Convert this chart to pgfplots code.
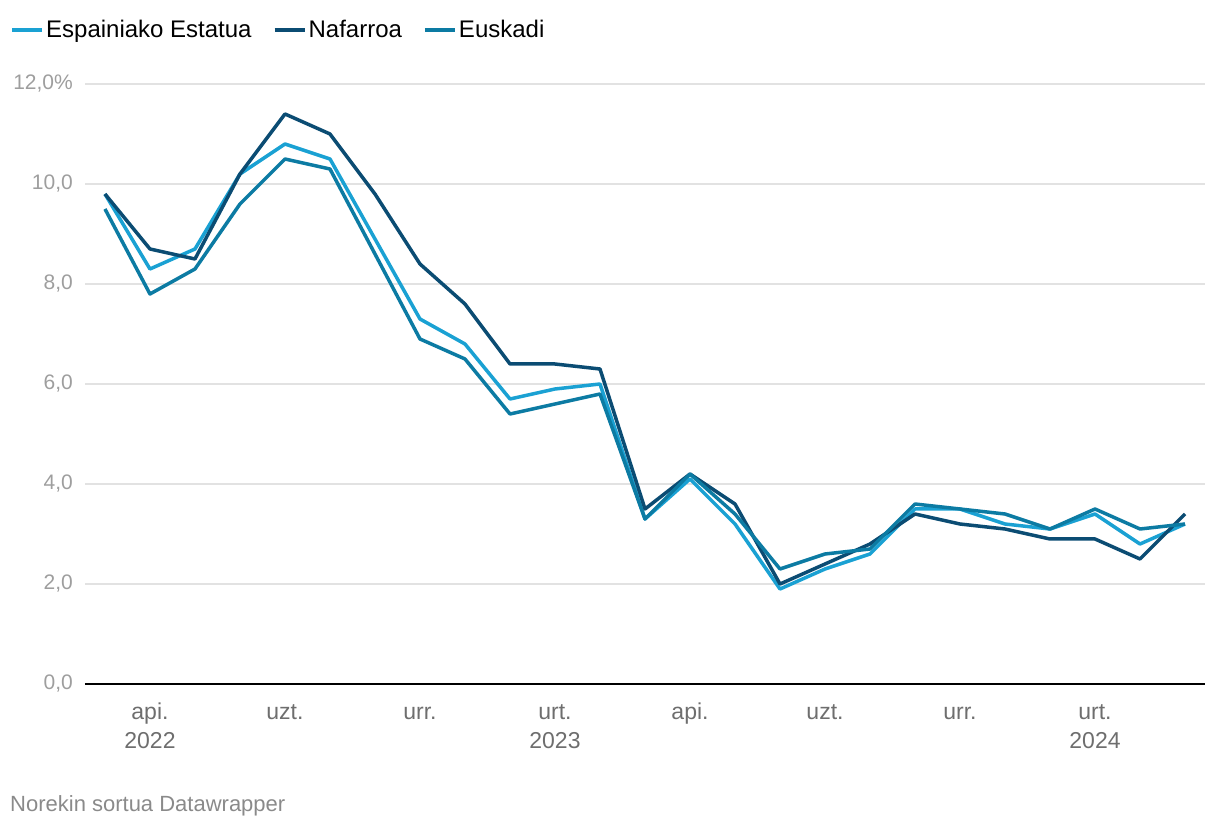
\documentclass[border=0pt]{standalone}
\usepackage{fontspec}
\setmainfont{Liberation Sans}
\usepackage{pgfplots}
\usepackage{pgfplotstable}
\pgfplotsset{compat=1.18}
\definecolor{esp}{HTML}{1AA1D3}
\definecolor{naf}{HTML}{0B4C73}
\definecolor{eus}{HTML}{0C7BA3}
\definecolor{gridc}{HTML}{E2E2E2}
\definecolor{ylab}{HTML}{9E9E9E}
\definecolor{xlab}{HTML}{6E6E6E}
\definecolor{footc}{HTML}{8A8A8A}
\newcommand\zerolab{0,0}

\pgfplotstableread{
x esp naf eus
0 9.8 9.8 9.5
1 8.3 8.7 7.8
2 8.7 8.5 8.3
3 10.2 10.2 9.6
4 10.8 11.4 10.5
5 10.5 11.0 10.3
6 8.9 9.8 8.6
7 7.3 8.4 6.9
8 6.8 7.6 6.5
9 5.7 6.4 5.4
10 5.9 6.4 5.6
11 6.0 6.3 5.8
12 3.3 3.5 3.3
13 4.1 4.2 4.2
14 3.2 3.6 3.4
15 1.9 2.0 2.3
16 2.3 2.4 2.6
17 2.6 2.8 2.7
18 3.5 3.4 3.6
19 3.5 3.2 3.5
20 3.2 3.1 3.4
21 3.1 2.9 3.1
22 3.4 2.9 3.5
23 2.8 2.5 3.1
24 3.2 3.4 3.2
}\datatable

\begin{document}
\begin{tikzpicture}
\path[use as bounding box] (0,0) rectangle (1220pt,830pt);
\begin{axis}[
  at={(85pt,146pt)}, anchor=south west,
  scale only axis, width=1120pt, height=600pt,
  xmin=-0.444, xmax=24.444, ymin=0, ymax=12,
  axis line style={draw=none},
  major tick length=0pt,
  ytick={2,4,...,12},
  yticklabels={{2,0},{4,0},{6,0},{8,0},{10,0},{12,0\%}},
  extra y ticks={0}, extra y tick labels={\zerolab},
  extra y tick style={major grid style={black, line width=2pt}},
  ymajorgrids, grid style={gridc, line width=1.5pt},
  yticklabel style={font=\fontsize{21}{24}\selectfont, text=ylab, inner sep=0pt, xshift=-12pt},
  xtick={1,4,...,22},
  xticklabels={{\strut api.\\2022},{\strut uzt.},{\strut urr.},{\strut urt.\\2023},{\strut api.},{\strut uzt.},{\strut urr.},{\strut urt.\\2024}},
  xticklabel style={font=\fontsize{23}{29}\selectfont, text=xlab, align=center, anchor=north, inner sep=0pt, yshift=-15pt},
  legend columns=3,
  legend style={at={(-0.067,1.09)}, anchor=west, draw=none, fill=none, inner sep=0pt,
    font=\fontsize{24}{27}\selectfont,
    /tikz/every even column/.append style={column sep=19pt}},
  legend image code/.code={\draw[#1, line width=4pt] (0pt,0pt) -- (30pt,0pt);},
  every axis plot/.append style={line width=3.5pt, line join=round},
]
\addplot[esp, mark=none] table[x=x, y=esp] {\datatable};
\addlegendentry{Espainiako Estatua}
\addplot[naf, mark=none] table[x=x, y=naf] {\datatable};
\addlegendentry{Nafarroa}
\addplot[eus, mark=none] table[x=x, y=eus] {\datatable};
\addlegendentry{Euskadi}
\end{axis}
\node[anchor=west, text=footc, font=\fontsize{22}{25}\selectfont, inner sep=0pt] at (10pt,24pt) {Norekin sortua Datawrapper};
\end{tikzpicture}
\end{document}
